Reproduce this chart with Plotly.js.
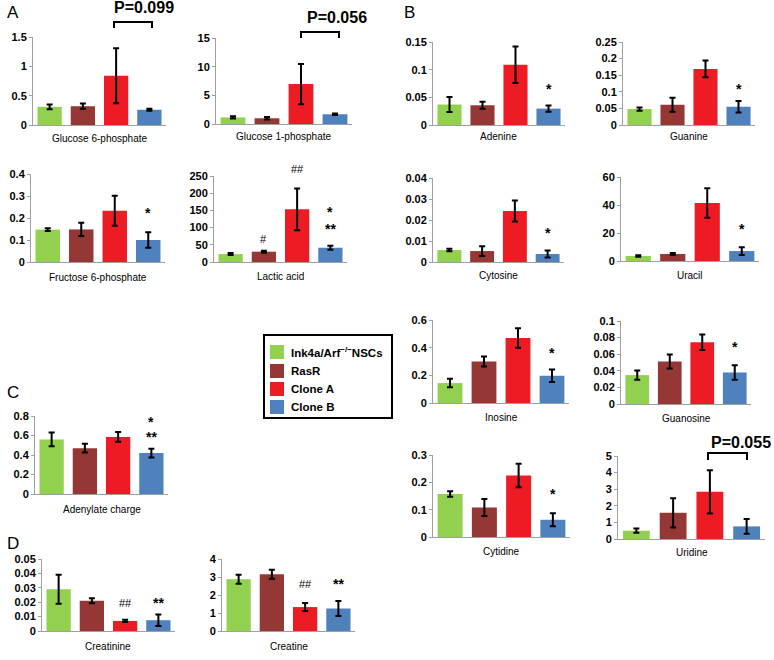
<!DOCTYPE html>
<html>
<head>
<meta charset="utf-8">
<script src="https://cdn.plot.ly/plotly-3.0.1.min.js"></script>
<style>
  html, body { margin: 0; padding: 0; background: #fff; }
  #grafico { width: 774px; height: 660px; }
</style>
</head>
<body>
<div id="grafico"></div>
<script>
/* global Plotly */

// grupos (legenda)
var grupos = ['Ink4a/Arf<sup>\u2212/\u2212</sup>NSCs', 'RasR', 'Clone A', 'Clone B'];

// metabolitos, na ordem dos painéis
var metabolitos = ['Glucose 6-phosphate', 'Glucose 1-phosphate', 'Fructose 6-phosphate', 'Lactic acid',
    'Adenine', 'Guanine', 'Cytosine', 'Uracil',
    'Inosine', 'Guanosine', 'Cytidine', 'Uridine',
    'Adenylate charge', 'Creatinine', 'Creatine'];

// médias e erros
var ink4a    = [0.31, 1.15, 0.147, 23, 0.037, 0.048, 0.0057, 3.6, 0.144, 0.0348, 0.157, 0.50, 0.56, 0.029, 2.87];
var ink4aErr = [0.04, 0.2, 0.006, 3, 0.0135, 0.005, 0.0006, 0.5, 0.031, 0.0056, 0.010, 0.13, 0.07, 0.010, 0.25];
var rasR     = [0.32, 1.0, 0.148, 30, 0.0357, 0.061, 0.0052, 5.0, 0.30, 0.0512, 0.108, 1.58, 0.47, 0.021, 3.15];
var rasRErr  = [0.045, 0.2, 0.03, 3, 0.0065, 0.021, 0.0023, 0.7, 0.037, 0.0085, 0.031, 0.88, 0.045, 0.0018, 0.25];
var cloneA   = [0.84, 6.96, 0.233, 153, 0.109, 0.169, 0.0243, 41.4, 0.47, 0.0744, 0.225, 2.84, 0.585, 0.007, 1.33];
var cloneAErr= [0.47, 3.5, 0.068, 61, 0.033, 0.025, 0.005, 10.5, 0.07, 0.0092, 0.043, 1.3, 0.05, 0.0008, 0.22];
var cloneB   = [0.26, 1.7, 0.10, 41.5, 0.0296, 0.055, 0.0038, 7.1, 0.197, 0.038, 0.063, 0.76, 0.42, 0.0075, 1.25];
var cloneBErr= [0.015, 0.15, 0.035, 6, 0.0055, 0.017, 0.0017, 2.8, 0.046, 0.0088, 0.024, 0.44, 0.045, 0.004, 0.42];

// eixos y: máximo e passo dos ticks
var yMax  = [1.5, 15, 0.4, 250, 0.15, 0.25, 0.04, 60, 0.6, 0.1, 0.3, 5, 0.8, 0.05, 4];
var yPasso= [0.5, 5, 0.1, 50, 0.05, 0.05, 0.01, 20, 0.2, 0.02, 0.1, 1, 0.2, 0.01, 1];

// marcas de significância: painel, grupo, texto, posição y (px)
var marcaPainel = [2, 3, 3, 3, 3, 4, 5, 6, 7, 8, 9, 10, 12, 12, 13, 13, 14, 14];
var marcaGrupo  = [3, 1, 2, 3, 3, 3, 3, 3, 3, 3, 3, 3, 3, 3, 2, 3, 2, 3];
var marcaTexto  = ['*', '#', '##', '*', '**', '*', '*', '*', '*', '*', '*', '*', '*', '**', '##', '**', '##', '**'];
var marcaY      = [213, 239, 169, 212, 229, 89, 89, 233, 229, 353, 347, 494, 422, 437, 603, 603, 584, 584];

var cores = ['#92d050', '#953735', '#ed1c24', '#4f81bd'];

// posição de cada painel em pixels: [esquerda, direita, topo, base, y do rótulo]
var caixas = [
    [33, 166, 37, 125, 138], [216, 352, 38, 124, 137],
    [31, 165, 174, 262, 277], [214, 347, 176, 262, 276],
    [433, 565, 42, 125, 137], [623, 755, 42, 125, 137],
    [433, 564, 178, 262, 275], [621, 759, 177, 261, 275],
    [433, 569, 320, 403, 417], [621, 751, 321, 404, 418],
    [433, 570, 455, 537, 551], [618, 765, 456, 539, 552],
    [35, 168, 416, 494, 509],
    [42, 175, 559, 631, 646], [222, 355, 559, 631, 646]
];

var W = 774, H = 660;
function px(x) { return x / W; }
function py(y) { return 1 - y / H; }

var series = [ink4a, rasR, cloneA, cloneB];
var erros = [ink4aErr, rasRErr, cloneAErr, cloneBErr];

var dados = [];
var estilo = {
    width: W, height: H,
    margin: {l: 0, r: 0, t: 0, b: 0},
    paper_bgcolor: '#fff', plot_bgcolor: '#fff',
    barmode: 'overlay', bargap: 0.27,
    font: {family: 'Liberation Sans, Arial, sans-serif', color: '#000'},
    showlegend: false,
    annotations: [], shapes: []
};

for (var p = 0; p < metabolitos.length; p++) {
    var sufixo = p === 0 ? '' : String(p + 1);
    var c = caixas[p];
    for (var g = 0; g < 4; g++) {
        dados.push({
            type: 'bar',
            x: [grupos[g]],
            y: [series[g][p]],
            name: grupos[g],
            marker: {color: cores[g], line: {width: 0}},
            error_y: {type: 'data', array: [erros[g][p]], color: '#000', thickness: 2, width: 3},
            xaxis: 'x' + sufixo, yaxis: 'y' + sufixo,
            hoverinfo: 'skip'
        });
    }
    estilo['xaxis' + sufixo] = {
        domain: [px(c[0]), px(c[1])], anchor: 'y' + sufixo,
        showticklabels: false, showline: true, linecolor: '#a0a0a0', linewidth: 1,
        ticks: '', showgrid: false, zeroline: false, fixedrange: true,
        categoryorder: 'array', categoryarray: grupos
    };
    estilo['yaxis' + sufixo] = {
        domain: [py(c[3]), py(c[2])], anchor: 'x' + sufixo,
        range: [0, yMax[p]], dtick: yPasso[p], tick0: 0,
        showline: true, linecolor: '#a0a0a0', linewidth: 1,
        ticks: 'outside', ticklen: 3, tickcolor: '#a0a0a0',
        showgrid: false, zeroline: false, fixedrange: true,
        tickfont: {size: 11, weight: 'bold'}
    };
    estilo.annotations.push({
        xref: 'paper', yref: 'paper', x: px((c[0] + c[1]) / 2), y: py(c[4]),
        text: metabolitos[p], showarrow: false, font: {size: 10},
        xanchor: 'center', yanchor: 'middle'
    });
}

// marcas * e #
for (var m = 0; m < marcaTexto.length; m++) {
    var s = marcaPainel[m] === 0 ? '' : String(marcaPainel[m] + 1);
    var ehHash = marcaTexto[m].charAt(0) === '#';
    estilo.annotations.push({
        xref: 'x' + s, yref: 'paper', x: grupos[marcaGrupo[m]], y: py(marcaY[m]),
        text: marcaTexto[m], showarrow: false,
        font: {size: ehHash ? 11 : 14, weight: ehHash ? 'normal' : 'bold'},
        xanchor: 'center', yanchor: 'middle'
    });
}

// valores P e colchetes
var pTexto = ['P=0.099', 'P=0.056', 'P=0.055'];
var pX = [144, 337, 741];
var pY = [8, 18, 442];
var colchetes = [[114, 152, 22, 28], [301, 339, 32, 38], [708, 747, 453, 460]];
for (var k = 0; k < pTexto.length; k++) {
    estilo.annotations.push({
        xref: 'paper', yref: 'paper', x: px(pX[k]), y: py(pY[k]),
        text: pTexto[k], showarrow: false, font: {size: 16, weight: 'bold'},
        xanchor: 'center', yanchor: 'middle'
    });
    var b = colchetes[k];
    estilo.shapes.push({
        type: 'path', xref: 'paper', yref: 'paper',
        path: 'M' + px(b[0]) + ',' + py(b[3]) + ' L' + px(b[0]) + ',' + py(b[2]) +
              ' L' + px(b[1]) + ',' + py(b[2]) + ' L' + px(b[1]) + ',' + py(b[3]),
        line: {color: '#000', width: 2}
    });
}

// legenda desenhada à mão (caixa, quadrados e textos)
var legLinhas = [352, 371, 389, 407];
estilo.shapes.push({
    type: 'rect', xref: 'paper', yref: 'paper',
    x0: px(264), x1: px(392), y0: py(418), y1: py(335),
    line: {color: '#000', width: 2}, fillcolor: '#fff', layer: 'below'
});
for (var i = 0; i < grupos.length; i++) {
    estilo.shapes.push({
        type: 'rect', xref: 'paper', yref: 'paper',
        x0: px(270), x1: px(284), y0: py(legLinhas[i] + 7), y1: py(legLinhas[i] - 7),
        line: {width: 0}, fillcolor: cores[i]
    });
    estilo.annotations.push({
        xref: 'paper', yref: 'paper', x: px(289), y: py(legLinhas[i]),
        text: grupos[i], showarrow: false, font: {size: 11.5, weight: 'bold'},
        xanchor: 'left', yanchor: 'middle'
    });
}

// letras dos painéis
var letras = ['A', 'B', 'C', 'D'];
var letraX = [13, 409, 13, 13];
var letraY = [12, 12, 392, 543];
for (var l = 0; l < letras.length; l++) {
    estilo.annotations.push({
        xref: 'paper', yref: 'paper', x: px(letraX[l]), y: py(letraY[l]),
        text: letras[l], showarrow: false, font: {size: 17},
        xanchor: 'center', yanchor: 'middle'
    });
}

Plotly.newPlot('grafico', dados, estilo, {staticPlot: true});
</script>
</body>
</html>
